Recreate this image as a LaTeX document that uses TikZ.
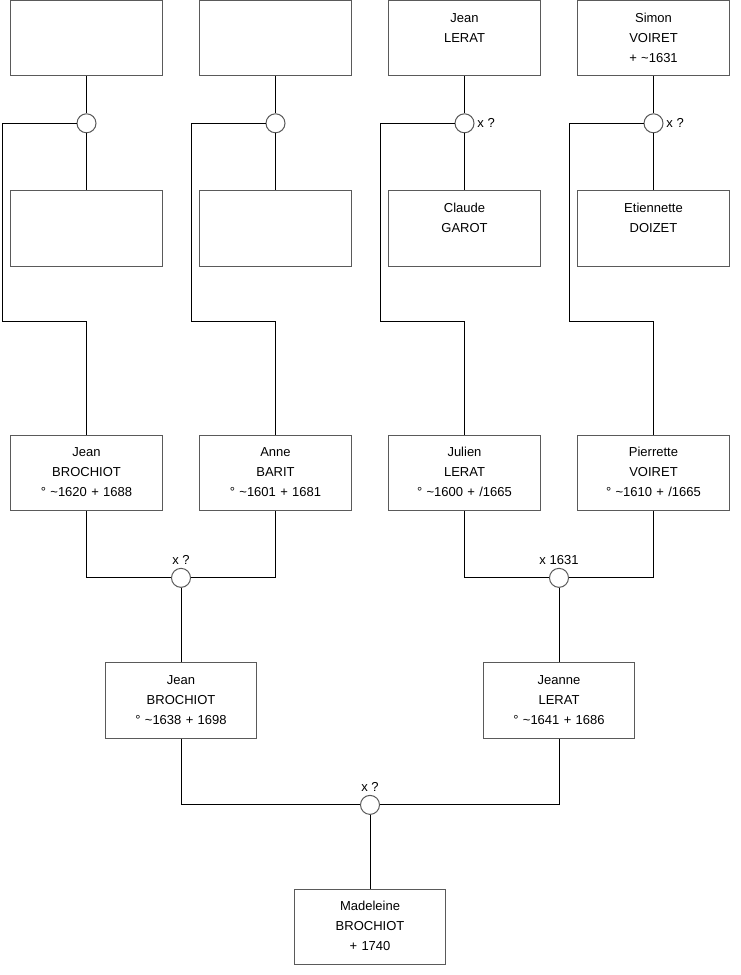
\documentclass[tikz,border=0pt]{standalone}
\usepackage{fontspec}
\setmainfont{Liberation Sans}
\usepackage{xcolor}
\usetikzlibrary{positioning, calc}
\definecolor{boxGray}{RGB}{90,90,90}
\newcommand{\arbrefont}{\fontsize{9.75}{15}\selectfont}
\newcommand{\fiche}[3]{\strut#1\\\strut#2\\\strut#3}

\begin{document}
\begin{tikzpicture}[x=0.75pt, y=-0.75pt,
person/.style={rectangle, draw=boxGray, fill=white, line width=0.75pt,
minimum width=113.6pt, minimum height=56.6pt, text width=110pt,
inner sep=0pt, align=center, font=\arbrefont},
wed/.style={circle, draw=boxGray, fill=white, line width=0.75pt,
minimum size=14.25pt, inner sep=0pt},
wedlabel/.style={font=\arbrefont, inner sep=2pt},
link/.style={draw=black, line width=0.75pt}]

\useasboundingbox (0,0) rectangle (740,975);

% grands-parents
\node[person] (gp1) at (86.5,38.25) {};
\node[person] (gp2) at (275.5,38.25) {};
\node[person] (gp3) at (464.5,38.25) {\fiche{Jean}{LERAT}{}};
\node[person] (gp4) at (653.5,38.25) {\fiche{Simon}{VOIRET}{+ \textasciitilde1631}};

\node[wed, below=27.6pt of gp1] (u1) {};
\node[wed, below=27.6pt of gp2] (u2) {};
\node[wed, below=27.6pt of gp3, label={[wedlabel]right:x ?}] (u3) {};
\node[wed, below=27.6pt of gp4, label={[wedlabel]right:x ?}] (u4) {};

\node[person, below=42.9pt of u1] (gm1) {};
\node[person, below=42.9pt of u2] (gm2) {};
\node[person, below=42.9pt of u3] (gm3) {\fiche{Claude}{GAROT}{}};
\node[person, below=42.9pt of u4] (gm4) {\fiche{Etiennette}{DOIZET}{}};

% parents
\node[person, below=125.8pt of gm1] (jb1)
    {\fiche{Jean}{BROCHIOT}{° \textasciitilde1620 + 1688}};
\node[person, below=125.8pt of gm2] (ab)
    {\fiche{Anne}{BARIT}{° \textasciitilde1601 + 1681}};
\node[person, below=125.8pt of gm3] (jl)
    {\fiche{Julien}{LERAT}{° \textasciitilde1600 + /1665}};
\node[person, below=125.8pt of gm4] (pv)
    {\fiche{Pierrette}{VOIRET}{° \textasciitilde1610 + /1665}};

\coordinate (k1) at (2,321.7);
\coordinate (k2) at (191,321.7);
\coordinate (k3) at (380,321.7);
\coordinate (k4) at (569,321.7);

\node[wed, label={[wedlabel]above:x ?}] (u5) at ($(jb1.south)!0.5!(ab.south)+(0,66.7)$) {};
\node[wed, label={[wedlabel]above:x 1631}] (u6) at ($(jl.south)!0.5!(pv.south)+(0,66.7)$) {};

\node[person, below=55.7pt of u5] (jb2)
    {\fiche{Jean}{BROCHIOT}{° \textasciitilde1638 + 1698}};
\node[person, below=55.7pt of u6] (jnl)
    {\fiche{Jeanne}{LERAT}{° \textasciitilde1641 + 1686}};

\node[wed, label={[wedlabel]above:x ?}] (u7) at ($(jb2.south)!0.5!(jnl.south)+(0,66.3)$) {};

\node[person, below=55.4pt of u7] (mb)
    {\fiche{Madeleine}{BROCHIOT}{+ 1740}};

% liens
\draw[link] (gp1) -- (u1);
\draw[link] (gp2) -- (u2);
\draw[link] (gp3) -- (u3);
\draw[link] (gp4) -- (u4);
\draw[link] (u1) -- (gm1);
\draw[link] (u2) -- (gm2);
\draw[link] (u3) -- (gm3);
\draw[link] (u4) -- (gm4);
\draw[link] (u1.west) -| (k1) -| (jb1.north);
\draw[link] (u2.west) -| (k2) -| (ab.north);
\draw[link] (u3.west) -| (k3) -| (jl.north);
\draw[link] (u4.west) -| (k4) -| (pv.north);
\draw[link] (jb1.south) |- (u5.west);
\draw[link] (ab.south)  |- (u5.east);
\draw[link] (jl.south)  |- (u6.west);
\draw[link] (pv.south)  |- (u6.east);
\draw[link] (u5) -- (jb2);
\draw[link] (u6) -- (jnl);
\draw[link] (jb2.south) |- (u7.west);
\draw[link] (jnl.south) |- (u7.east);
\draw[link] (u7) -- (mb);
\end{tikzpicture}
\end{document}
